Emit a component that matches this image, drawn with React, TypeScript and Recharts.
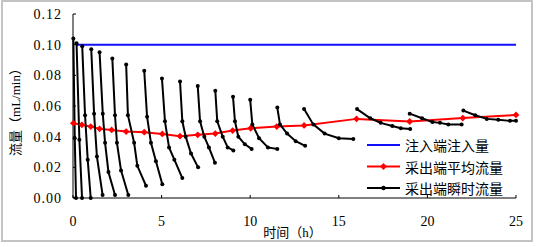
import { LineChart, Line, XAxis, YAxis, Legend, Label } from "recharts";

// 注入端注入量
const injectHours = [0.2, 25];
const injectFlow = [0.1, 0.1];

// 采出端平均流量
const avgHours = [0.02, 0.5, 1.0, 1.5, 2.18, 3.0, 4.02, 5.04, 6.04, 7.04, 8.03, 9.01, 10.03, 11.5, 13.04, 16.0, 19.0, 22.0, 25.0];
const avgFlow = [0.0488, 0.0477, 0.0466, 0.0451, 0.0444, 0.0433, 0.0429, 0.0418, 0.0403, 0.0412, 0.042, 0.044, 0.0455, 0.0466, 0.0473, 0.0516, 0.0499, 0.0521, 0.0542];

// 采出端瞬时流量, one list of [h, flow] per measuring cycle
const instantSegments: number[][][] = [
  [[0.02, 0.104], [0.1, 0.039], [0.17, 0]],
  [[0.2, 0.101], [0.36, 0.038], [0.51, 0]],
  [[0.52, 0.099], [0.68, 0.054], [0.83, 0.025], [1.0, 0]],
  [[1.03, 0.097], [1.19, 0.055], [1.35, 0.027], [1.67, 0.002]],
  [[1.5, 0.095], [1.68, 0.055], [1.81, 0.036], [2.0, 0.017], [2.37, 0.002]],
  [[2.22, 0.091], [2.37, 0.054], [2.48, 0.036], [2.71, 0.018], [3.12, 0.002]],
  [[3.0, 0.087], [3.1, 0.054], [3.45, 0.036], [3.63, 0.021], [4.12, 0.008]],
  [[4.02, 0.083], [4.18, 0.053], [4.4, 0.036], [4.68, 0.024], [5.04, 0.009]],
  [[5.02, 0.078], [5.19, 0.05], [5.42, 0.033], [5.72, 0.025], [6.17, 0.013]],
  [[6.04, 0.076], [6.17, 0.05], [6.36, 0.04], [6.66, 0.029], [7.06, 0.02]],
  [[7.04, 0.073], [7.17, 0.05], [7.41, 0.04], [7.67, 0.033], [8.01, 0.023]],
  [[8.03, 0.07], [8.14, 0.05], [8.45, 0.04], [8.73, 0.033], [9.05, 0.031]],
  [[9.03, 0.066], [9.14, 0.05], [9.33, 0.04], [9.7, 0.035], [10.08, 0.032]],
  [[10.0, 0.064], [10.12, 0.048], [10.5, 0.039], [11.0, 0.033], [11.53, 0.032]],
  [[11.53, 0.059], [11.68, 0.048], [12.08, 0.042], [12.57, 0.037], [13.1, 0.034]],
  [[13.04, 0.058], [13.56, 0.048], [14.2, 0.042], [15.0, 0.039], [15.82, 0.0385]],
  [[16.03, 0.058], [16.78, 0.052], [17.36, 0.049], [18.02, 0.047], [18.5, 0.0455], [19.03, 0.045]],
  [[19.0, 0.055], [19.7, 0.052], [20.28, 0.0495], [20.71, 0.049], [21.18, 0.048], [21.93, 0.048]],
  [[22.03, 0.057], [22.7, 0.054], [23.35, 0.0516], [24.0, 0.051], [24.66, 0.0503], [25.0, 0.0503]],
];

const xTicks = [0, 5, 10, 15, 20, 25];
const yTicks = [0, 0.02, 0.04, 0.06, 0.08, 0.1, 0.12];

const injectData = injectHours.map((h, i) => ({ h, q: injectFlow[i] }));
const avgData = avgHours.map((h, i) => ({ h, q: avgFlow[i] }));
// a null row after each cycle breaks the line
const instantData = instantSegments.flatMap((seg) => [
  ...seg.map(([h, q]) => ({ h, q })),
  { h: seg[seg.length - 1][0], q: null },
]);

const serif = "'Liberation Serif', 'Noto Sans CJK SC', serif";
const cjk = "'Noto Sans CJK SC', sans-serif";

const Diamond = (props: any) => {
  const { cx, cy, index } = props;
  if (cx == null || cy == null) return <g key={index} />;
  const s = 3.4;
  return (
    <path
      key={index}
      d={`M${cx},${cy - s}L${cx + s},${cy}L${cx},${cy + s}L${cx - s},${cy}Z`}
      fill="#ff0000"
    />
  );
};

const YTitle = ({ viewBox }: any) => {
  const x = (viewBox?.x ?? 0) + 15;
  const y = (viewBox?.y ?? 14) + (viewBox?.height ?? 184) / 2 + 3;
  return (
    <text
      x={x}
      y={y}
      transform={`rotate(-90 ${x} ${y})`}
      textAnchor="middle"
      dominantBaseline="central"
      fontSize={13}
      fontFamily={serif}
      fill="#000"
    >
      流量（mL/min）
    </text>
  );
};

const XTitle = ({ viewBox }: any) => {
  const x = (viewBox?.x ?? 73) + (viewBox?.width ?? 443) / 2 - 2;
  const y = (viewBox?.y ?? 198) + 34;
  return (
    <text
      x={x}
      y={y}
      textAnchor="middle"
      dominantBaseline="central"
      fontSize={13}
      fontFamily={serif}
      fill="#000"
    >
      时间（h）
    </text>
  );
};

const renderLegend = ({ payload }: any) => (
  <svg width={150} height={66}>
    {(payload || []).map((item: any, i: number) => {
      const y = 11 + i * 21.5;
      return (
        <g key={item.value}>
          <line x1={2} x2={35} y1={y} y2={y} stroke={item.color} strokeWidth={2} />
          {i === 1 && <Diamond cx={18.5} cy={y} index={0} />}
          {i === 2 && <circle cx={18.5} cy={y} r={2.2} fill="#000" />}
          <text x={40} y={y} dominantBaseline="central" fontSize={14} fontFamily={cjk} fill="#000">
            {item.value}
          </text>
        </g>
      );
    })}
  </svg>
);

export default function App() {
  return (
    <div style={{ position: "absolute", left: 0, top: 0, width: 538, height: 247, background: "#fff" }}>
      <div
        style={{
          position: "absolute",
          left: 1,
          top: 0,
          width: 532,
          height: 242,
          boxSizing: "border-box",
          border: "2px solid #c4c4c4",
        }}
      />
      <LineChart
        width={538}
        height={247}
        margin={{ top: 14, right: 22, bottom: 19, left: 0 }}
        style={{ position: "absolute", left: 0, top: 0 }}
      >
        <XAxis
          type="number"
          dataKey="h"
          domain={[0, 25]}
          ticks={xTicks}
          height={30}
          tickSize={-3}
          tickMargin={21}
          stroke="#000"
          tick={{ fill: "#000", fontSize: 14, fontFamily: serif }}
        >
          <Label content={<XTitle />} />
        </XAxis>
        <YAxis
          type="number"
          domain={[0, 0.12]}
          ticks={yTicks}
          width={73}
          tickSize={-3}
          tickMargin={14}
          stroke="#000"
          tickFormatter={(v: number) => v.toFixed(2)}
          tick={{ fill: "#000", fontSize: 14, fontFamily: serif, letterSpacing: 1 }}
        >
          <Label content={<YTitle />} />
        </YAxis>
        <Legend
          layout="horizontal"
          align="center"
          verticalAlign="middle"
          content={renderLegend}
          wrapperStyle={{ left: 365, top: 134, width: 150 }}
        />
        <Line
          data={injectData}
          dataKey="q"
          name="注入端注入量"
          stroke="#1010ff"
          strokeWidth={2}
          dot={false}
          isAnimationActive={false}
        />
        <Line
          data={avgData}
          dataKey="q"
          name="采出端平均流量"
          stroke="#ff0000"
          strokeWidth={2}
          dot={Diamond}
          isAnimationActive={false}
        />
        <Line
          data={instantData}
          dataKey="q"
          name="采出端瞬时流量"
          stroke="#000"
          strokeWidth={2}
          dot={{ r: 2, fill: "#000", stroke: "none" }}
          isAnimationActive={false}
        />
      </LineChart>
    </div>
  );
}
